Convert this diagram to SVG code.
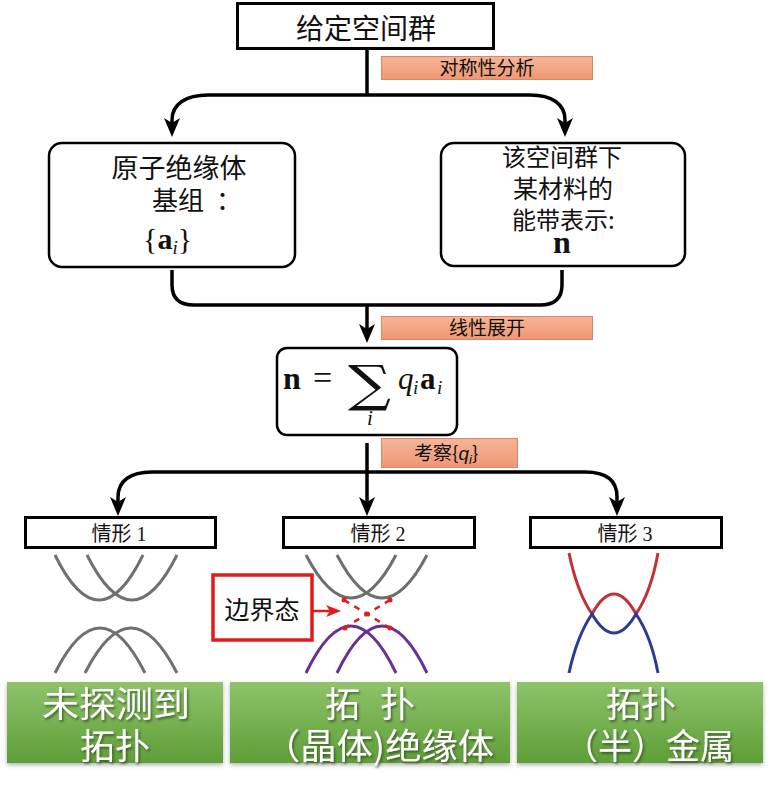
<svg xmlns="http://www.w3.org/2000/svg" width="771" height="800" viewBox="0 0 771 800">
<defs>
  <marker id="arr" viewBox="-14 -9 22 18" refX="0" refY="0" markerWidth="22" markerHeight="18" markerUnits="userSpaceOnUse" orient="auto">
    <path d="M7,0 L-12,-8 L-7,0 L-12,8 Z" fill="#000"/>
  </marker>
  <marker id="rarr" viewBox="-12 -7 18 14" refX="0" refY="0" markerWidth="18" markerHeight="14" markerUnits="userSpaceOnUse" orient="auto">
    <path d="M5,0 L-10,-6 L-6,0 L-10,6 Z" fill="#e01b1b"/>
  </marker>
  <linearGradient id="og" x1="0" y1="0" x2="0" y2="1">
    <stop offset="0" stop-color="#f6b598"/>
    <stop offset="1" stop-color="#ef9674"/>
  </linearGradient>
  <linearGradient id="gg" x1="0" y1="0" x2="0" y2="1">
    <stop offset="0" stop-color="#8ec36a"/>
    <stop offset="1" stop-color="#5e9e37"/>
  </linearGradient>
  <filter id="ts" x="-10%" y="-10%" width="130%" height="140%">
    <feDropShadow dx="1.5" dy="2" stdDeviation="1.2" flood-color="#2a3a1a" flood-opacity="0.65"/>
  </filter>
  <filter id="bs" x="-5%" y="-5%" width="110%" height="120%">
    <feDropShadow dx="0" dy="2" stdDeviation="2" flood-color="#000" flood-opacity="0.3"/>
  </filter>
  <style>
    .cjk { font-family: "Noto Sans CJK SC", sans-serif; fill: #111; }
    .ser { font-family: "Liberation Serif", "Noto Sans CJK SC", serif; fill: #111; }
    .math { font-family: "DejaVu Serif", "Liberation Serif", serif; fill: #111; }
    .it { font-style: italic; }
    .bd { font-weight: bold; }
    .box { fill: #fff; stroke: #000; stroke-width: 3; }
    .rbox { fill: #fff; stroke: #000; stroke-width: 2.5; }
    .tag { fill: url(#og); stroke: #d9876a; stroke-width: 1; }
    .green { fill: url(#gg); filter: url(#bs); }
    .gt { font-family: "Noto Sans CJK SC", sans-serif; fill: #fff; font-size: 35px; filter: url(#ts); }
    .conn { fill: none; stroke: #000; stroke-width: 3.5; }
    .band { fill: none; stroke-width: 3; }
  </style>
</defs>

<g id="connectors">
  <path class="conn" d="M367 50 V95"/>
  <path class="conn" d="M367 95 H208 C186 95 172 104 172 120 V130" marker-end="url(#arr)"/>
  <path class="conn" d="M367 95 H530 C552 95 565 104 565 120 V130" marker-end="url(#arr)"/>
  <path class="conn" d="M172 270 V285 Q172 305 194 305 H540 Q562 305 562 285 V270"/>
  <path class="conn" d="M367 305 V336" marker-end="url(#arr)"/>
  <path class="conn" d="M367 443 V472"/>
  <path class="conn" d="M367 472 V509" marker-end="url(#arr)"/>
  <path class="conn" d="M367 472 H152 C130 472 118 481 118 497 V509" marker-end="url(#arr)"/>
  <path class="conn" d="M367 472 H585 C607 472 617 481 617 497 V509" marker-end="url(#arr)"/>
</g>

<g id="node-spacegroup">
  <rect class="box" x="237.5" y="3.5" width="256" height="45" stroke-width="3.5"/>
  <text class="cjk" x="366" y="39" font-size="28" text-anchor="middle">给定空间群</text>
</g>

<g id="label-symmetry">
  <rect class="tag" x="381.5" y="56.5" width="211" height="23"/>
  <text class="cjk" x="487" y="75" font-size="19" text-anchor="middle">对称性分析</text>
</g>

<g id="node-atomic">
  <rect class="rbox" x="49" y="143" width="246" height="124" rx="13"/>
  <text class="cjk" x="179" y="178" font-size="27" text-anchor="middle">原子绝缘体</text>
  <text class="cjk" x="152" y="210" font-size="26">基组</text>
  <text class="cjk" x="216" y="210" font-size="26">：</text>
  <text class="ser" x="143" y="249" font-size="30">{<tspan class="bd">a</tspan><tspan class="it" font-size="19" dy="5">i</tspan><tspan dy="-5">}</tspan></text>
</g>

<g id="node-bandrep">
  <rect class="rbox" x="441" y="143" width="244" height="123" rx="13"/>
  <text class="cjk" x="562" y="166" font-size="24" text-anchor="middle">该空间群下</text>
  <text class="cjk" x="563" y="198" font-size="25" text-anchor="middle">某材料的</text>
  <text class="cjk" x="512" y="229" font-size="24">能带表示:</text>
  <text class="ser bd" x="562" y="253" font-size="32" text-anchor="middle">n</text>
</g>

<g id="label-linear">
  <rect class="tag" x="381.5" y="316.5" width="211" height="23"/>
  <text class="cjk" x="487" y="335" font-size="19" text-anchor="middle">线性展开</text>
</g>

<g id="node-formula">
  <rect class="rbox" x="277" y="348" width="180" height="87" rx="10"/>
  <text class="ser bd" x="283" y="389" font-size="32">n</text>
  <text class="ser" x="313" y="389" font-size="34">=</text>
  <text class="math" x="348" y="401" font-size="50" textLength="43" lengthAdjust="spacingAndGlyphs">∑</text>
  <text class="ser it" x="370" y="425" font-size="21" text-anchor="middle">i</text>
  <text class="ser it" x="398" y="389" font-size="31">q</text>
  <text class="ser it" x="413" y="394" font-size="19">i</text>
  <text class="ser bd" x="420" y="389" font-size="31">a</text>
  <text class="ser it" x="437" y="394" font-size="19">i</text>
</g>

<g id="label-examine">
  <rect class="tag" x="381.5" y="438.5" width="136" height="29"/>
  <text class="cjk" x="414" y="460" font-size="19">考察{<tspan font-family="Liberation Sans" font-style="italic">q</tspan><tspan font-family="Liberation Sans" font-style="italic" font-size="13" dy="4">i</tspan><tspan dy="-4">}</tspan></text>
</g>

<g id="node-case1">
  <rect class="box" x="25.5" y="517.5" width="190" height="30"/>
  <text class="ser" x="119" y="541" font-size="20" text-anchor="middle">情形 1</text>
</g>
<g id="node-case2">
  <rect class="box" x="283.5" y="517.5" width="191" height="30"/>
  <text class="ser" x="378" y="541" font-size="20" text-anchor="middle">情形 2</text>
</g>
<g id="node-case3">
  <rect class="box" x="530.5" y="517.5" width="191" height="30"/>
  <text class="ser" x="625" y="541" font-size="20" text-anchor="middle">情形 3</text>
</g>

<g id="bands-case1" class="band" stroke="#707070">
  <path d="M55 555 Q99 645 143 555"/>
  <path d="M87 555 Q132 645 177 555"/>
  <path d="M55 673 Q100 583 145 673"/>
  <path d="M85 673 Q131 583 177 673"/>
</g>

<g id="bands-case2">
  <g class="band" stroke="#6e6e6e">
    <path d="M306 555 Q351 641 396 555"/>
    <path d="M337 555 Q382 641 427 555"/>
  </g>
  <g class="band" stroke="#6a2f96">
    <path d="M306 673 Q351 579 396 673"/>
    <path d="M337 673 Q382 579 427 673"/>
  </g>
  <g stroke="#e01b1b" stroke-width="2.5" stroke-dasharray="6 6" fill="none">
    <path d="M344 600 L390 628"/>
    <path d="M390 600 L344 628"/>
  </g>
  <g fill="#e01b1b">
    <circle cx="344" cy="600" r="2.5"/>
    <circle cx="390" cy="600" r="2.5"/>
    <circle cx="345" cy="628" r="2.5"/>
    <circle cx="390" cy="628" r="2.5"/>
    <circle cx="367" cy="614" r="2.5"/>
  </g>
</g>

<g id="node-edgestate">
  <rect x="213" y="575" width="99" height="65" fill="#fff" stroke="#e01b1b" stroke-width="3.5"/>
  <text class="cjk" x="262" y="619" font-size="25" text-anchor="middle">边界态</text>
  <path d="M312 611 H336" fill="none" stroke="#e01b1b" stroke-width="2.5" marker-end="url(#rarr)"/>
</g>

<g id="bands-case3" class="band">
  <path stroke="#c23038" d="M569 553 Q577 592 592 614 Q614 574 636 614 Q651 592 658 553"/>
  <path stroke="#2c3a90" d="M569 673 Q577 636 592 614 Q614 652 636 614 Q651 636 658 673"/>
</g>

<g id="result1">
  <rect class="green" x="7" y="682" width="216" height="81"/>
  <text class="gt" x="116" y="717" text-anchor="middle" textLength="148" lengthAdjust="spacingAndGlyphs">未探测到</text>
  <text class="gt" x="115" y="759" text-anchor="middle">拓扑</text>
</g>
<g id="result2">
  <rect class="green" x="230" y="682" width="280" height="81"/>
  <text class="gt" x="370" y="717" text-anchor="middle" word-spacing="12">拓 扑</text>
  <text class="gt" x="264" y="759" textLength="230" lengthAdjust="spacingAndGlyphs">（晶体)绝缘体</text>
</g>
<g id="result3">
  <rect class="green" x="517" y="682" width="246" height="81"/>
  <text class="gt" x="641" y="717" text-anchor="middle">拓扑</text>
  <text class="gt" x="564" y="759" textLength="170" lengthAdjust="spacingAndGlyphs">（半）金属</text>
</g>
</svg>
